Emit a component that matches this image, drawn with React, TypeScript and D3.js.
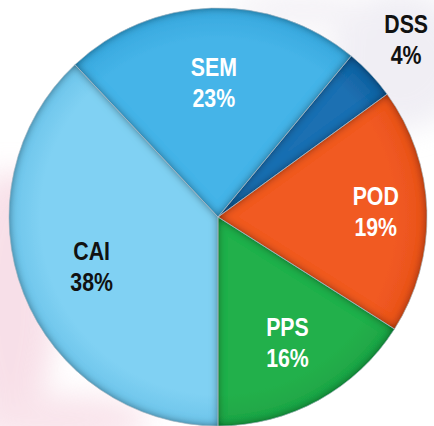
import * as d3 from "d3";

// slice order runs clockwise starting at 6 o'clock
const categories = ["CAI", "SEM", "DSS", "POD", "PPS"];
const shares = [38, 23, 4, 19, 16];
const percentLabels = ["38%", "23%", "4%", "19%", "16%"];

const W = 434;
const H = 426;
const cx = 218;
const cy = 217;
const R = 209;

const fills: Record<string, [string, string]> = {
  CAI: ["#80d1f3", "#6cc4ea"],
  SEM: ["#45b4e8", "#38a8de"],
  DSS: ["#1f70b2", "#11609f"],
  POD: ["#f15a22", "#e8521c"],
  PPS: ["#24b04b", "#1ea445"],
};
const textColor: Record<string, string> = {
  CAI: "#111",
  SEM: "#fff",
  DSS: "#111",
  POD: "#fff",
  PPS: "#fff",
};
// label distance from centre, as a fraction of the radius
const labelR: Record<string, number> = {
  CAI: 0.65,
  SEM: 0.64,
  DSS: 1.235,
  POD: 0.755,
  PPS: 0.69,
};

const rows = categories.map((c, i) => ({ cat: c, value: shares[i], label: percentLabels[i] }));

export default function App() {
  const pie = d3
    .pie<(typeof rows)[number]>()
    .value((d) => d.value)
    .sort(null)
    .startAngle(Math.PI)
    .endAngle(3 * Math.PI);
  const arcs = pie(rows);
  const arc = d3.arc<d3.PieArcDatum<(typeof rows)[number]>>().innerRadius(0).outerRadius(R);

  const font = "'Liberation Sans', Arial, sans-serif";

  return (
    <svg
      width={W}
      height={H}
      style={{ position: "absolute", left: 0, top: 0, background: "#fff" }}
    >
      <defs>
        <filter id="bevel" x="-5%" y="-5%" width="110%" height="110%">
          <feGaussianBlur in="SourceAlpha" stdDeviation="4" result="blur" />
          <feComposite in="SourceAlpha" in2="blur" operator="out" result="rim" />
          <feComponentTransfer in="rim" result="rim2">
            <feFuncA type="linear" slope="1.6" />
          </feComponentTransfer>
          <feFlood floodColor="#000" floodOpacity="0.55" />
          <feComposite in2="rim2" operator="in" result="shade" />
          <feMerge>
            <feMergeNode in="SourceGraphic" />
            <feMergeNode in="shade" />
          </feMerge>
        </filter>
        <filter id="soft" x="-50%" y="-50%" width="200%" height="200%">
          <feGaussianBlur stdDeviation="14" />
        </filter>
        {categories.map((c) => (
          <radialGradient key={c} id={"g-" + c} cx={0} cy={0} r={R} gradientUnits="userSpaceOnUse">
            <stop offset="0" stopColor={fills[c][0]} />
            <stop offset="0.85" stopColor={fills[c][0]} />
            <stop offset="1" stopColor={fills[c][1]} />
          </radialGradient>
        ))}
      </defs>

      {/* faint backdrop behind the pie */}
      <g filter="url(#soft)" opacity={0.55}>
        <ellipse cx={10} cy={300} rx={45} ry={130} fill="#f2c6d6" />
        <ellipse cx={60} cy={420} rx={90} ry={25} fill="#f4cfdc" />
        <ellipse cx={400} cy={60} rx={70} ry={70} fill="#e4e1ec" />
        <ellipse cx={300} cy={10} rx={70} ry={20} fill="#ece8f0" />
      </g>

      <g transform={`translate(${cx},${cy})`}>
        {arcs.map((a) => (
          <path
            key={a.data.cat}
            d={arc(a) ?? ""}
            fill={`url(#g-${a.data.cat})`}
            filter="url(#bevel)"
          />
        ))}
        {arcs.map((a) => (
          <path
            key={"e" + a.data.cat}
            d={arc(a) ?? ""}
            fill="none"
            stroke="#a9b6c2"
            strokeWidth={0.8}
            strokeOpacity={0.8}
          />
        ))}
        {arcs.map((a) => {
          const mid = (a.startAngle + a.endAngle) / 2;
          const r = R * labelR[a.data.cat];
          const x = Math.sin(mid) * r;
          const y = -Math.cos(mid) * r;
          return (
            <text
              key={"t" + a.data.cat}
              transform={`translate(${x},${y}) scale(0.82,1)`}
              textAnchor="middle"
              fill={textColor[a.data.cat]}
              fontFamily={font}
              fontWeight="bold"
              fontSize={26}
            >
              <tspan x={0} y={-7}>
                {a.data.cat}
              </tspan>
              <tspan x={0} y={24}>
                {a.data.label}
              </tspan>
            </text>
          );
        })}
      </g>
    </svg>
  );
}
